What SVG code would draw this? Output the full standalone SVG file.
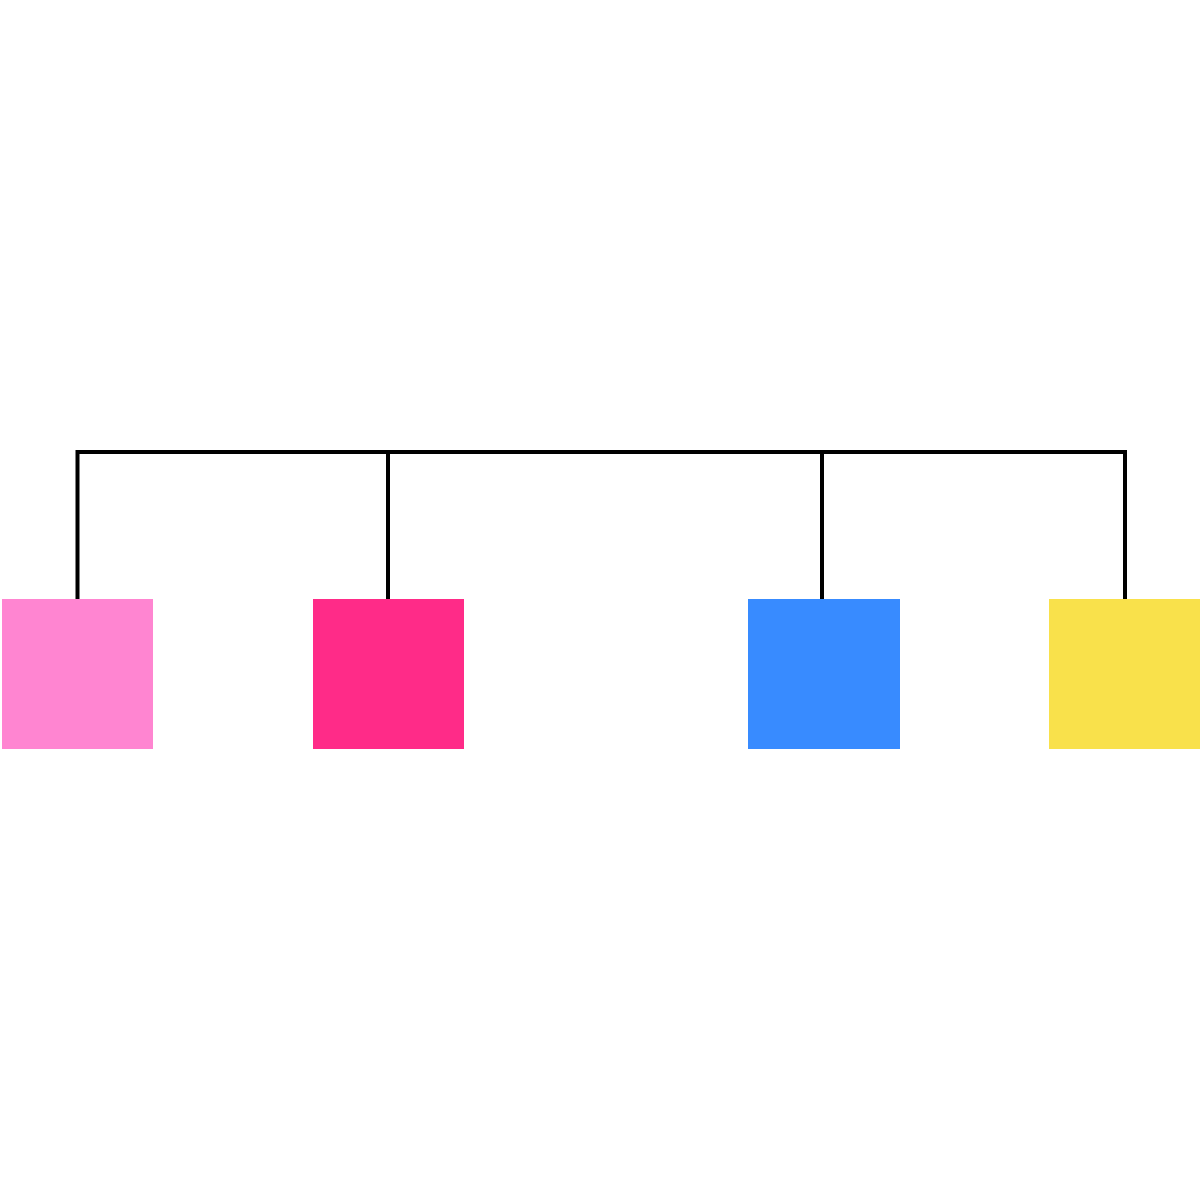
<svg xmlns="http://www.w3.org/2000/svg" width="1200" height="1200" viewBox="0 0 1200 1200">
  <style>
    .conn { fill: none; stroke: #000000; stroke-width: 4; stroke-linejoin: miter; }
  </style>
  <rect x="0" y="0" width="1200" height="1200" fill="#ffffff"/>
  <g id="connectors">
    <path class="conn" d="M77.5 599 V452 H1125 V599"/>
    <path class="conn" d="M388 452 V599"/>
    <path class="conn" d="M822 452 V599"/>
  </g>
  <g id="node-pink"><rect x="2" y="599" width="151" height="150" fill="#FF85D1"/></g>
  <g id="node-crimson"><rect x="313" y="599" width="151" height="150" fill="#FF2B88"/></g>
  <g id="node-blue"><rect x="748" y="599" width="152" height="150" fill="#388BFF"/></g>
  <g id="node-yellow"><rect x="1049" y="599" width="151" height="150" fill="#F9E14B"/></g>
</svg>
